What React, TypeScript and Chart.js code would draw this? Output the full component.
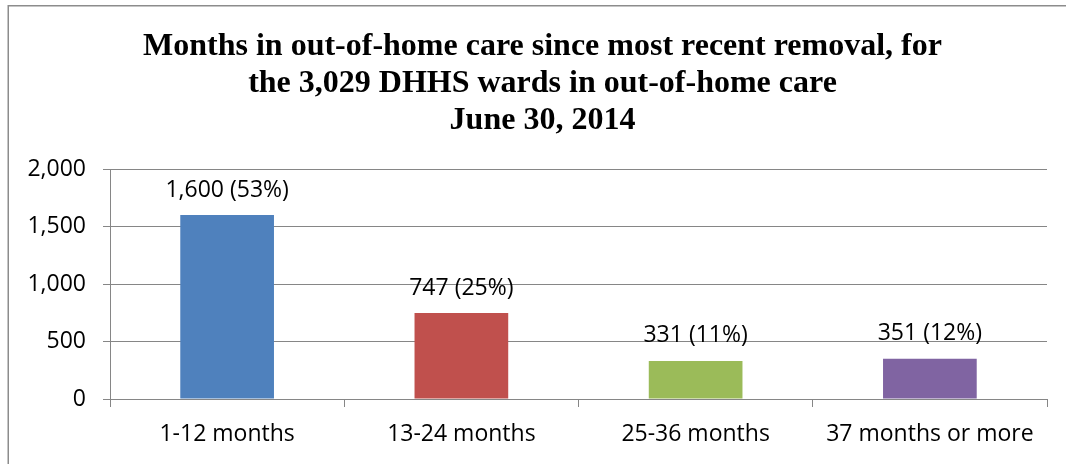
import React, { useEffect, useRef } from "react";
import { Chart, registerables } from "chart.js";

Chart.register(...registerables);

const categories = ["1-12 months", "13-24 months", "25-36 months", "37 months or more"];
const counts = [1600, 747, 331, 351];
const valueLabels = ["1,600 (53%)", "747 (25%)", "331 (11%)", "351 (12%)"];
const barColors = ["#4F81BD", "#C0504D", "#9BBB59", "#8064A2"];
const titleLines = [
  "Months in out-of-home care since most recent removal, for",
  "the 3,029 DHHS wards in out-of-home care",
  "June 30, 2014",
];
const yMin = 0;
const yMax = 2000;
const yStep = 500;

const GRID = "#868686";
const LABEL_FONT = '"Open Sans", sans-serif';

const decorPlugin = {
  id: "decor",
  beforeDraw(chart: any) {
    const ctx = chart.ctx;
    ctx.save();
    ctx.fillStyle = "#ffffff";
    ctx.fillRect(0, 0, chart.width, chart.height);
    // outer border (left and top visible)
    ctx.strokeStyle = "#8c8c8c";
    ctx.lineWidth = 1.5;
    ctx.beginPath();
    ctx.moveTo(8.25, chart.height + 2);
    ctx.lineTo(8.25, 5.75);
    ctx.lineTo(chart.width + 2, 5.75);
    ctx.stroke();
    // title
    ctx.fillStyle = "#000000";
    ctx.font = 'bold 32px "Liberation Serif", "Times New Roman", serif';
    ctx.textAlign = "center";
    ctx.textBaseline = "alphabetic";
    const baselines = [54.5, 91.5, 128.5];
    titleLines.forEach((t, i) => ctx.fillText(t, 542.5, baselines[i]));
    ctx.restore();
  },
  afterDatasetsDraw(chart: any) {
    const ctx = chart.ctx;
    const meta = chart.getDatasetMeta(0);
    ctx.save();
    ctx.fillStyle = "#000000";
    ctx.font = `23px ${LABEL_FONT}`;
    ctx.textAlign = "center";
    ctx.textBaseline = "alphabetic";
    meta.data.forEach((bar: any, i: number) => {
      ctx.fillText(valueLabels[i], bar.x, bar.y - 18.5);
    });
    ctx.restore();
  },
};

export default function App() {
  const canvasRef = useRef<HTMLCanvasElement | null>(null);

  useEffect(() => {
    const canvas = canvasRef.current;
    if (!canvas) return;
    const chart = new Chart(canvas, {
      type: "bar",
      data: {
        labels: categories,
        datasets: [
          {
            data: counts,
            backgroundColor: barColors,
            borderWidth: 0,
            barPercentage: 0.4,
            categoryPercentage: 1,
          },
        ],
      },
      options: {
        responsive: false,
        animation: false,
        devicePixelRatio: 1,
        layout: { padding: { top: 169, left: 8, right: 19, bottom: 0 } },
        plugins: {
          legend: { display: false },
          title: { display: false },
          tooltip: { enabled: false },
        },
        scales: {
          x: {
            afterFit: (scale: any) => {
              scale.height = 65;
            },
            grid: {
              offset: true,
              drawOnChartArea: false,
              drawTicks: true,
              tickLength: 8,
              color: GRID,
              lineWidth: 1,
            },
            border: { display: true, color: GRID, width: 1 },
            ticks: {
              color: "#000000",
              font: { family: LABEL_FONT, size: 23 },
              padding: 14,
              maxRotation: 0,
              autoSkip: false,
            },
          },
          y: {
            min: yMin,
            max: yMax,
            afterFit: (scale: any) => {
              scale.width = 102;
            },
            grid: {
              color: GRID,
              lineWidth: 1,
              drawTicks: true,
              tickLength: 7,
            },
            border: { display: true, color: GRID, width: 1 },
            ticks: {
              stepSize: yStep,
              color: "#000000",
              font: { family: LABEL_FONT, size: 23 },
              padding: 17,
              callback: (v: any) => Number(v).toLocaleString("en-US"),
            },
          },
        },
      },
      plugins: [decorPlugin],
    });
    return () => chart.destroy();
  }, []);

  return (
    <div style={{ position: "fixed", left: 0, top: 0, width: 1066, height: 464, overflow: "hidden" }}>
      <canvas ref={canvasRef} width={1066} height={464} style={{ display: "block" }} />
    </div>
  );
}
